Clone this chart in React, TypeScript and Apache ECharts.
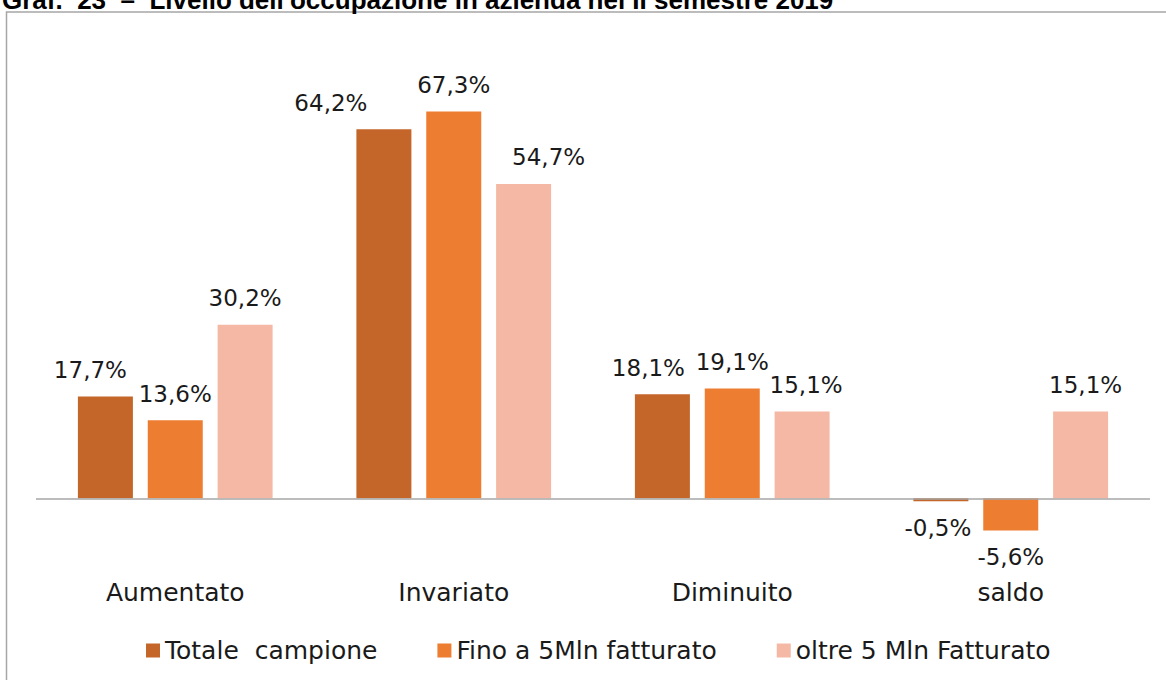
import React, { useEffect, useRef } from "react";
import * as echarts from "echarts";

const categories = ["Aumentato", "Invariato", "Diminuito", "saldo"];
const seriesNames = ["Totale  campione", "Fino a 5Mln fatturato", "oltre 5 Mln Fatturato"];
const totaleCampione = [17.7, 64.2, 18.1, -0.5];
const finoA5Mln = [13.6, 67.3, 19.1, -5.6];
const oltre5Mln = [30.2, 54.7, 15.1, 15.1];
const titleText = "Graf.  23  –  Livello dell'occupazione in azienda nel II semestre 2019";

const colors = ["#C4652A", "#ED7D31", "#F4B8A4"];
// manual horizontal label nudges as in the source chart
const labelShift = [
  [-15, -53, -14, -3],
  [0, 0, 0, 0],
  [0, 25, 4, 5],
];

const FONT = "DejaVu Sans";

export default function App() {
  const ref = useRef<HTMLDivElement>(null);
  useEffect(() => {
    if (!ref.current) return;
    const chart = echarts.init(ref.current, undefined, { renderer: "svg" });
    const values = [totaleCampione, finoA5Mln, oltre5Mln];
    const series: any[] = values.map((arr, si) => ({
      name: seriesNames[si],
      type: "bar",
      barWidth: 55,
      barGap: "27%",
      itemStyle: { color: colors[si] },
      data: arr.map((v, i) => ({
        value: v,
        label: {
          position: v < 0 ? "bottom" : "top",
          offset: [labelShift[si][i], 0],
        },
      })),
      label: {
        show: true,
        distance: 15,
        color: "#1a1a1a",
        fontFamily: FONT,
        fontSize: 23,
        formatter: (p: any) => p.value.toFixed(1).replace(".", ",") + "%",
      },
    }));
    series[0].markLine = {
      silent: true,
      symbol: "none",
      label: { show: false },
      lineStyle: { color: "#a6a6a6", type: "solid", width: 1.5 },
      data: [{ yAxis: 0 }],
    };
    chart.setOption({
      animation: false,
      color: colors,
      grid: { left: 36, right: 16, top: 96, bottom: 107 },
      xAxis: {
        type: "category",
        data: categories,
        axisLine: { show: false, onZero: false },
        axisTick: { show: false },
        axisLabel: { color: "#1a1a1a", fontFamily: FONT, fontSize: 25, margin: 7 },
      },
      yAxis: {
        type: "value",
        min: -13,
        max: 70,
        show: false,
        splitLine: { show: false },
      },
      legend: {
        left: 141,
        top: 633,
        icon: "rect",
        itemWidth: 14,
        itemHeight: 14,
        itemGap: 60,
        textStyle: { color: "#1a1a1a", fontFamily: FONT, fontSize: 25 },
        data: seriesNames,
      },
      graphic: [
        {
          type: "rect",
          shape: { x: 6.5, y: 12, width: 1200, height: 700 },
          style: { fill: "none", stroke: "#a6a6a6", lineWidth: 1.5 },
          silent: true,
        },
        {
          type: "text",
          x: 2,
          y: -13,
          style: {
            text: titleText,
            fill: "#000",
            font: "bold 26px 'Liberation Sans'",
            textVerticalAlign: "top",
          },
          silent: true,
        },
      ],
      series,
    });
    return () => chart.dispose();
  }, []);
  return (
    <div
      ref={ref}
      style={{ position: "absolute", left: 0, top: 0, width: 1166, height: 680, background: "#fff" }}
    />
  );
}
